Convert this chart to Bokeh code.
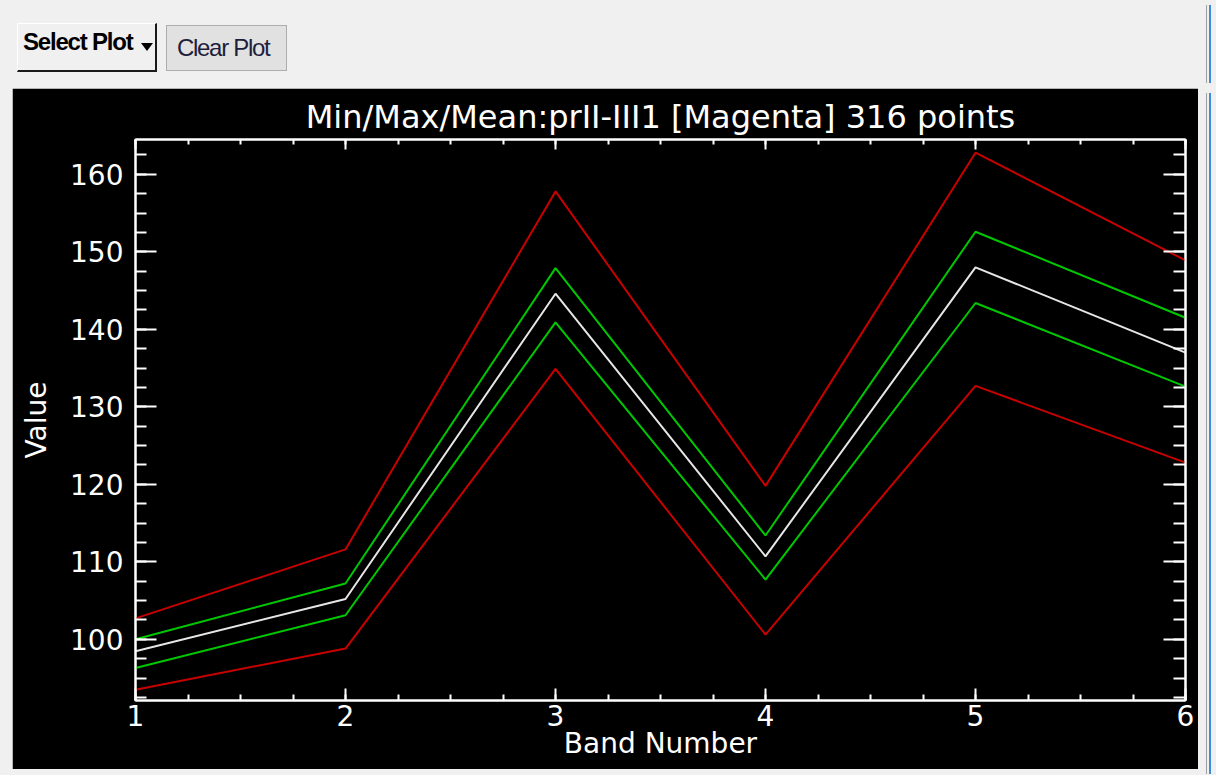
from bokeh.plotting import figure
from bokeh.models import Range1d, FixedTicker, LinearAxis, Div, Spacer
from bokeh.layouts import column, row
from bokeh.embed import file_html
from bokeh.resources import INLINE

# ---- data ----
bands = [1, 2, 3, 4, 5, 6]
max_vals = [102.7, 111.6, 157.8, 119.8, 162.8, 148.9]
mean_plus_sd = [100.0, 107.2, 147.9, 113.4, 152.6, 141.5]
mean_vals = [98.45, 105.2, 144.6, 110.7, 148.0, 137.0]
mean_minus_sd = [96.3, 103.1, 140.9, 107.7, 143.4, 132.6]
min_vals = [93.5, 98.8, 134.9, 100.6, 132.7, 122.8]

title_text = "Min/Max/Mean:prII-III1 [Magenta] 316 points"
x_label = "Band Number"
y_label = "Value"
x_major = [1, 2, 3, 4, 5, 6]
x_minor = [1 + 0.25 * i for i in range(21)]
y_major = [100, 110, 120, 130, 140, 150, 160]
y_minor = [92.5 + 2.5 * i for i in range(29)]

RED = "#c80000"
GREEN = "#00c800"
WHITE = "#e6e6e6"
FONT = "DejaVu Sans"

p = figure(width=1186, height=681,
           x_range=Range1d(1, 6), y_range=Range1d(92.1, 164.5),
           output_backend="svg", toolbar_location=None,
           background_fill_color="black", border_fill_color="black",
           min_border_left=123, min_border_right=13,
           min_border_top=51, min_border_bottom=69)
p.xgrid.visible = False
p.ygrid.visible = False
p.outline_line_color = "white"
p.outline_line_width = 2

p.title.text = title_text
p.title.align = "center"
p.title.text_color = "white"
p.title.text_font = FONT
p.title.text_font_size = "32px"
p.title.text_font_style = "normal"
p.title.standoff = 7


def style_axis(ax, tin, mtin, labels=True):
    ax.axis_line_color = "white"
    ax.axis_line_width = 2
    ax.major_tick_line_color = "white"
    ax.major_tick_line_width = 2
    ax.minor_tick_line_color = "white"
    ax.minor_tick_line_width = 2
    ax.major_tick_in = tin
    ax.major_tick_out = 0
    ax.minor_tick_in = mtin
    ax.minor_tick_out = 0
    ax.major_label_text_font = FONT
    ax.axis_label_text_color = "white"
    ax.axis_label_text_font = FONT
    ax.axis_label_text_font_style = "normal"
    ax.axis_label_text_font_size = "28px"
    if labels:
        ax.major_label_text_color = "white"
        ax.major_label_text_font_size = "28px"
    else:
        ax.major_label_text_color = None
        ax.major_label_text_alpha = 0
        ax.major_label_text_font_size = "1px"
        ax.major_label_standoff = 0


xb = p.xaxis[0]
xb.ticker = FixedTicker(ticks=x_major, minor_ticks=x_minor)
style_axis(xb, 12, 6)
xb.axis_label = x_label
xb.major_label_standoff = 4
xb.axis_label_standoff = -2

yl = p.yaxis[0]
yl.ticker = FixedTicker(ticks=y_major, minor_ticks=y_minor)
style_axis(yl, 21, 11)
yl.axis_label = y_label
yl.major_label_standoff = 12
yl.axis_label_standoff = 14

xt = LinearAxis(ticker=FixedTicker(ticks=x_major, minor_ticks=x_minor))
style_axis(xt, 10, 5, labels=False)
p.add_layout(xt, "above")

yr = LinearAxis(ticker=FixedTicker(ticks=y_major, minor_ticks=y_minor))
style_axis(yr, 22, 12, labels=False)
p.add_layout(yr, "right")

for ys, c in [(max_vals, RED), (min_vals, RED),
              (mean_plus_sd, GREEN), (mean_minus_sd, GREEN),
              (mean_vals, WHITE)]:
    p.line(bands, ys, line_color=c, line_width=2)

top_html = """
<div style="position:relative;width:1206px;height:78px;background:#f0f0f0;overflow:hidden;">
  <div style="position:absolute;left:12px;top:18px;width:140px;height:49px;box-sizing:border-box;
       border-left:1px solid #ffffff;border-top:1px solid #ffffff;border-right:2px solid #1a1a1a;border-bottom:2px solid #1a1a1a;
       background:#f0f0f0;">
    <span style="position:absolute;left:5px;top:3px;line-height:30px;font-family:'Liberation Sans',Arial,sans-serif;
          font-weight:bold;font-size:24px;letter-spacing:-1.2px;color:#000;white-space:nowrap;">Select Plot</span>
    <span style="position:absolute;left:123px;top:19px;width:0;height:0;border-left:6px solid transparent;
          border-right:6px solid transparent;border-top:8px solid #000;"></span>
  </div>
  <div style="position:absolute;left:161px;top:20px;width:121px;height:46px;box-sizing:border-box;
       border:1px solid #adadad;background:#e1e1e1;">
    <span style="position:absolute;left:10px;top:7px;line-height:30px;font-family:'Liberation Sans',Arial,sans-serif;
          font-size:24px;letter-spacing:-1.3px;color:#1e1e3c;white-space:nowrap;">Clear Plot</span>
  </div>
  <div style="position:absolute;left:1201px;top:0;width:1px;height:78px;background:#a0a0a0;"></div>
  <div style="position:absolute;left:1204px;top:0;width:2px;height:78px;background:#3c8ce0;"></div>
</div>
"""
top_div = Div(text=top_html, width=1206, height=78, styles={"background-color": "#f0f0f0"})

right_html = """
<div style="position:relative;width:8px;height:681px;background:#f0f0f0;">
  <div style="position:absolute;left:3px;top:0;width:1px;height:681px;background:#a0a0a0;"></div>
  <div style="position:absolute;left:6px;top:0;width:2px;height:681px;background:#3c8ce0;"></div>
</div>
"""
right_div = Div(text=right_html, width=8, height=681, styles={"background-color": "#f0f0f0"})
left_sp = Spacer(width=12, height=681, styles={"background-color": "#f0f0f0"})

layout = column(top_div, row(left_sp, p, right_div, spacing=0), spacing=0,
                styles={"background-color": "#f0f0f0"})

open("out.html", "w").write(file_html(layout, INLINE))
